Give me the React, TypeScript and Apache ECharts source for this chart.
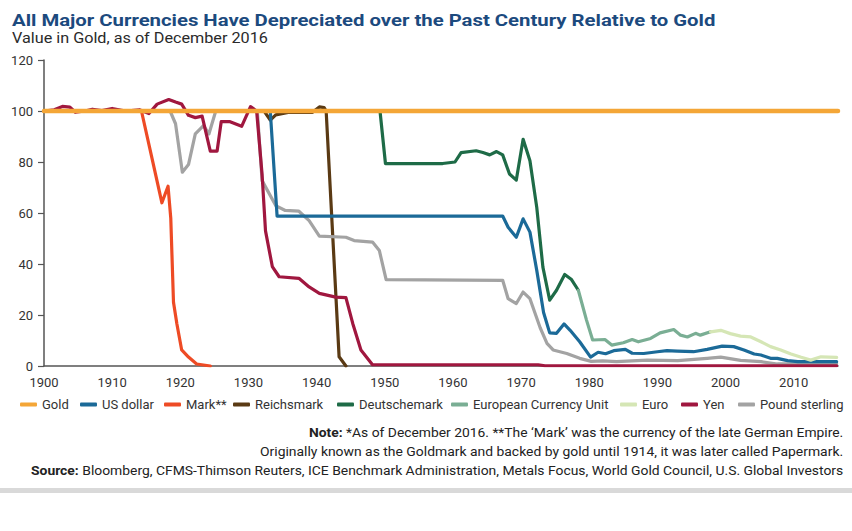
import React, { useEffect, useRef } from 'react';
import * as echarts from 'echarts';

// ---------- Data (year, value in gold; 100 = par) ----------
const xTickYears = [1900, 1910, 1920, 1930, 1940, 1950, 1960, 1970, 1980, 1990, 2000, 2010];
const yTicks = [0, 20, 40, 60, 80, 100, 120];

const gold: [number, number][] = [[1900, 100], [2016.5, 100]];

const usDollar: [number, number][] = [
  [1900, 100], [1933.2, 100], [1934.2, 58.8], [1967.3, 58.8], [1968.1, 54.4], [1969.3, 50.5],
  [1970.3, 57.7], [1971.3, 52.5], [1972.3, 37.5], [1973.3, 21], [1974.2, 13], [1975.2, 12.8],
  [1976.3, 16.5], [1977.2, 14], [1978.6, 9.5], [1980.2, 3.5], [1981.3, 5.4], [1982.4, 4.8],
  [1983.6, 6], [1985.3, 6.5], [1986.3, 5], [1988, 4.9], [1990, 5.6], [1991.4, 6], [1992.9, 5.8],
  [1995.3, 5.6], [1997.3, 6.5], [1999.5, 7.8], [2001.2, 7.6], [2002.7, 6.3], [2004.2, 4.7],
  [2005.2, 4.3], [2006.6, 3], [2007.6, 3], [2009.1, 2.1], [2010.6, 1.7], [2016.3, 1.7],
];

const mark: [number, number][] = [
  [1900, 100], [1914.3, 100], [1915.8, 82], [1917.3, 64], [1918.2, 70.5], [1918.6, 58],
  [1919, 25], [1919.5, 16.5], [1920.2, 6.3], [1921.2, 3.5], [1922.4, 0.8], [1924.4, 0],
];

const reichsmark: [number, number][] = [
  [1924.4, 100], [1932.3, 100], [1933.2, 96.4], [1934, 98.5], [1936, 99.5], [1939.4, 99.5],
  [1940.4, 101.6], [1941.1, 101.3], [1941.4, 100], [1943.3, 3.6], [1944.3, 0],
];

const deutschemark: [number, number][] = [
  [1948.5, 100], [1949.3, 100], [1950.1, 79.4], [1958.5, 79.4], [1960.3, 80], [1961.2, 83.7],
  [1963.4, 84.4], [1964.4, 83.7], [1965.4, 82.8], [1966.4, 84.1], [1967.3, 82.8], [1968.3, 75.3],
  [1969.3, 72.9], [1970.3, 88.9], [1971.3, 80.5], [1972.3, 62.2], [1973.2, 38.8], [1974.2, 25.8],
  [1975.2, 29.7], [1976.4, 35.9], [1977.4, 33.9], [1978.4, 29.7],
];

const ecu: [number, number][] = [
  [1978.4, 29.7], [1979.6, 18], [1980.5, 10.2], [1982.3, 10.4], [1983.3, 8.2], [1985, 9.1],
  [1986.3, 10.4], [1987.2, 9.5], [1989, 10.8], [1990.4, 13], [1992.4, 14.3], [1993.4, 12.1],
  [1994.4, 11.4], [1995.6, 12.8], [1996.3, 12.1], [1997.8, 13.4],
];

const euro: [number, number][] = [
  [1997.8, 13.4], [1999.3, 14], [2000.7, 12.7], [2002.2, 11.7], [2003.7, 11.4], [2005.2, 9.5],
  [2006.6, 7.6], [2008.1, 6.3], [2009.6, 4.7], [2011.1, 3.4], [2012.5, 2.3], [2014, 3.6],
  [2016.3, 3.4],
];

const yen: [number, number][] = [
  [1900, 100], [1901.5, 100.5], [1902.7, 101.8], [1903.8, 101.5], [1904.6, 99.5], [1906, 100],
  [1907.1, 100.7], [1908.5, 100.2], [1910, 101], [1912, 100], [1914, 100.5], [1915.4, 99],
  [1916.6, 102.7], [1918.3, 104.5], [1919.3, 103.5], [1920.2, 102.7], [1921.2, 98.3],
  [1922.2, 97.4], [1923.2, 98], [1924.4, 84.3], [1925.4, 84.3], [1926, 95.8], [1927.3, 95.8],
  [1929, 94], [1930.3, 101.7], [1931.2, 100], [1932, 75], [1932.5, 53], [1933.5, 39],
  [1934.5, 35], [1937.4, 34.4], [1938.9, 31], [1940.4, 28.5], [1942.8, 27], [1944.3, 26.8],
  [1945.3, 16.7], [1946.5, 6.3], [1948.2, 0.5], [1972.5, 0.5], [1973.5, 0.1], [2016.3, 0.1],
];

const pound: [number, number][] = [
  [1900, 100], [1918.5, 100], [1919.3, 95], [1920.3, 76], [1921.2, 79], [1922.2, 91],
  [1923.4, 94.3], [1924.2, 91], [1925.2, 100], [1931.3, 100], [1932, 72.7], [1934, 62.9],
  [1935.4, 61], [1937.4, 60.7], [1938.9, 57], [1940.4, 50.9], [1944.3, 50.5], [1945.5, 49.2],
  [1948.2, 48.6], [1949.2, 45.3], [1950.2, 33.9], [1967.3, 33.6], [1968.1, 26.4], [1969.3, 24.5],
  [1970.3, 29], [1971.3, 26.4], [1972.8, 15], [1973.8, 8.9], [1974.7, 6.3], [1976.7, 4.9],
  [1978.6, 3], [1980.3, 1.8], [1982, 2], [1984, 1.7], [1988.5, 2.3], [1993, 2.1], [1997.3, 3],
  [1999.3, 3.5], [2002.2, 2.2], [2005.2, 1.7], [2007.6, 0.8], [2016.3, 0.8],
];

const seriesNames = ['Gold', 'US dollar', 'Mark**', 'Reichsmark', 'Deutschemark', 'European Currency Unit', 'Euro', 'Yen', 'Pound sterling'];

const titleText = 'All Major Currencies Have Depreciated over the Past Century Relative to Gold';
const subtitleText = 'Value in Gold, as of December 2016';
const noteBold = 'Note:';
const noteRest = ' *As of December 2016. **The \u2018Mark\u2019 was the currency of the late German Empire.';
const note2 = 'Originally known as the Goldmark and backed by gold until 1914, it was later called Papermark.';
const sourceBold = 'Source:';
const sourceRest = ' Bloomberg, CFMS-Thimson Reuters, ICE Benchmark Administration, Metals Focus, World Gold Council, U.S. Global Investors';

// ---------- Styling ----------
const FONT = 'Roboto';
const colors: Record<string, string> = {
  'Gold': '#F4A637',
  'US dollar': '#1b6a98',
  'Mark**': '#ee4b25',
  'Reichsmark': '#5a3a14',
  'Deutschemark': '#1e6b47',
  'European Currency Unit': '#7aae94',
  'Euro': '#d5e6b5',
  'Yen': '#a0173f',
  'Pound sterling': '#a3a3a3',
};
const legendLefts = [20, 80, 164, 233, 337, 451, 620, 681, 738];

function measure(text: string, font: string): number {
  const c = document.createElement('canvas');
  const ctx = c.getContext('2d');
  if (!ctx) return text.length * 7;
  ctx.font = font;
  return ctx.measureText(text).width;
}

export default function App() {
  const ref = useRef<HTMLDivElement>(null);

  useEffect(() => {
    document.body.style.margin = '0';
    if (!ref.current) return;
    const chart = echarts.init(ref.current, undefined, { renderer: 'svg' });

    const dataMap: Record<string, [number, number][]> = {
      'Gold': gold,
      'US dollar': usDollar,
      'Mark**': mark,
      'Reichsmark': reichsmark,
      'Deutschemark': deutschemark,
      'European Currency Unit': ecu,
      'Euro': euro,
      'Yen': yen,
      'Pound sterling': pound,
    };
    const drawOrder = ['Mark**', 'Reichsmark', 'Pound sterling', 'Yen', 'US dollar', 'Deutschemark', 'European Currency Unit', 'Euro', 'Gold'];

    const series = drawOrder.map((name) => ({
      name,
      type: 'line',
      data: dataMap[name],
      showSymbol: false,
      symbol: 'none',
      z: name === 'Gold' ? 5 : 2,
      lineStyle: { color: colors[name], width: name === 'Gold' ? 4.5 : 3.2, cap: 'round', join: 'round' },
      itemStyle: { color: colors[name] },
      emphasis: { disabled: true },
    }));

    const legends = seriesNames.map((name, i) => ({
      data: [name],
      left: legendLefts[i],
      top: 398,
      padding: 0,
      icon: 'roundRect',
      itemWidth: 17,
      itemHeight: 4,
      selectedMode: false,
      textStyle: { fontFamily: FONT, fontSize: 13, color: '#333' },
    }));

    const titleW = measure(titleText, `bold 17px ${FONT}`);
    const subW = measure(subtitleText, `15px ${FONT}`);
    const noteW = measure(noteBold, `bold 13px ${FONT}`) + measure(noteRest, `13px ${FONT}`);
    const note2W = measure(note2, `13px ${FONT}`);
    const srcW = measure(sourceBold, `bold 13px ${FONT}`) + measure(sourceRest, `13px ${FONT}`);

    const rich = { b: { fontWeight: 'bold', fontFamily: FONT, fontSize: 13, fill: '#222' } };

    chart.setOption({
      animation: false,
      backgroundColor: '#ffffff',
      grid: { left: 44, right: 14, top: 60, bottom: 165, containLabel: false },
      xAxis: {
        type: 'value',
        min: 1900,
        max: 2016.5,
        interval: 10,
        axisLine: { show: true, lineStyle: { color: '#555', width: 1.5 } },
        axisTick: { show: false },
        splitLine: { show: false },
        axisLabel: {
          margin: 10,
          fontFamily: FONT,
          fontSize: 13,
          color: '#333',
          showMaxLabel: false,
          formatter: (v: number) => (xTickYears.includes(v) ? String(v) : ''),
        },
      },
      yAxis: {
        type: 'value',
        min: 0,
        max: 120,
        interval: 20,
        axisLine: { show: true, lineStyle: { color: '#555', width: 1.5 } },
        axisTick: { show: true, length: 6, lineStyle: { color: '#555', width: 1.2 } },
        splitLine: { show: false },
        axisLabel: {
          margin: 11,
          fontFamily: FONT,
          fontSize: 13,
          color: '#333',
          formatter: (v: number) => (yTicks.includes(v) ? String(v) : ''),
        },
      },
      legend: legends,
      series,
      graphic: [
        {
          type: 'text', x: 12, y: 21, scaleX: 704 / titleW,
          style: { text: titleText, fontFamily: FONT, fontWeight: 'bold', fontSize: 17, fill: '#1c4a7e', align: 'left', verticalAlign: 'middle' },
        },
        {
          type: 'text', x: 12, y: 38, scaleX: 256 / subW,
          style: { text: subtitleText, fontFamily: FONT, fontSize: 15, fill: '#2a2a2a', align: 'left', verticalAlign: 'middle' },
        },
        {
          type: 'text', x: 309, y: 433, scaleX: 535 / noteW,
          style: { text: `{b|${noteBold}}${noteRest}`, rich, fontFamily: FONT, fontSize: 13, fill: '#222', align: 'left', verticalAlign: 'middle' },
        },
        {
          type: 'text', x: 260, y: 452, scaleX: 584 / note2W,
          style: { text: note2, fontFamily: FONT, fontSize: 13, fill: '#222', align: 'left', verticalAlign: 'middle' },
        },
        {
          type: 'text', x: 31, y: 471, scaleX: 813 / srcW,
          style: { text: `{b|${sourceBold}}${sourceRest}`, rich, fontFamily: FONT, fontSize: 13, fill: '#222', align: 'left', verticalAlign: 'middle' },
        },
        {
          type: 'rect', shape: { x: 0, y: 488, width: 852, height: 5 },
          style: { fill: '#d9d9d9' },
        },
      ],
    });

    return () => chart.dispose();
  }, []);

  return (
    <div
      ref={ref}
      style={{ position: 'absolute', left: 0, top: 0, width: 852, height: 531, background: '#fff' }}
    />
  );
}
